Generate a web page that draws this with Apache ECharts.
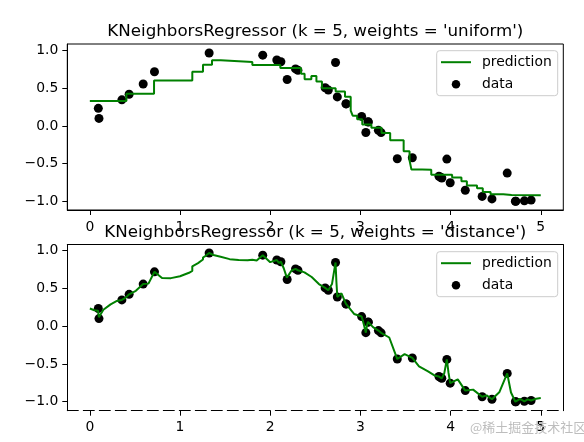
<!DOCTYPE html>
<html>
<head>
<meta charset="utf-8">
<script src="https://cdn.jsdelivr.net/npm/echarts@6/dist/echarts.min.js"></script>
<style>
html,body{margin:0;padding:0;background:#fff;}
#chart{width:584px;height:442px;}
</style>
</head>
<body>
<div id="chart"></div>
<script>
// training data (x, y)
const dataX = [0.0939, 0.1011, 0.3552, 0.4356, 0.5914, 0.7168, 1.3228, 1.9172, 2.0733, 2.1183,
  2.1879, 2.2808, 2.3074, 2.6092, 2.6445, 2.7244, 2.7441, 2.8402, 2.8422, 3.0138,
  3.0605, 3.0847, 3.0882, 3.1996, 3.2295, 3.4091, 3.5759, 3.8712, 3.8908, 3.9026,
  3.9586, 3.9958, 4.1631, 4.3501, 4.4589, 4.6280, 4.7187, 4.7233, 4.8183, 4.8931];
const dataY = [0.2343, 0.1009, 0.3478, 0.4220, 0.5575, 0.7200, 0.9694, 0.9405, 0.8763, 0.8532,
  0.6179, 0.7582, 0.7407, 0.5073, 0.4765, 0.8440, 0.3861, 0.2954, 0.2935, 0.1274,
  -0.0858, 0.0569, 0.0534, -0.0580, -0.0878, -0.4350, -0.4209, -0.6666, -0.6812, -0.6900,
  -0.4395, -0.7539, -0.8530, -0.9350, -0.9680, -0.6254, -1.0000, -1.0000, -0.9941, -0.9839];

// uniform prediction: step starts (x) and level (y)
const uniformX = [0, 0.4054, 0.7119, 1.1362, 1.2545, 1.3548, 1.4523, 1.8018, 2.1123, 2.3413,
  2.3814, 2.4562, 2.5124, 2.5738, 2.7257, 2.8292, 2.8925, 2.9144, 2.9642, 3.0209,
  3.1217, 3.2348, 3.3303, 3.4797, 3.5452, 3.5661, 3.6839, 3.7859, 4.0172, 4.1205,
  4.1808, 4.2933, 4.3573, 4.4432, 4.5842, 4.6760, 5.0];
const uniformY = [0.3325, 0.4296, 0.6033, 0.7219, 0.8127, 0.8719, 0.8515, 0.8092, 0.7693, 0.6955,
  0.6201, 0.6653, 0.5909, 0.5019, 0.4591, 0.3893, 0.2033, 0.1375, 0.0891, 0.0188,
  -0.0243, -0.0941, -0.1897, -0.3337, -0.4583, -0.5787, -0.5796, -0.6462, -0.6835, -0.7343,
  -0.7899, -0.8271, -0.8763, -0.9057, -0.9175, -0.9207, -0.9207];

// distance-weighted prediction samples
const distanceX = [0.00, 0.05, 0.0902, 0.1002, 0.15, 0.23, 0.30, 0.3552, 0.395, 0.4356,
  0.51, 0.5914, 0.65, 0.7168, 0.80, 0.90, 1.00, 1.10, 1.136, 1.136,
  1.20, 1.2545, 1.2545, 1.28, 1.3228, 1.37, 1.45, 1.55, 1.65, 1.75,
  1.8018, 1.8018, 1.85, 1.9172, 2.00, 2.0733, 2.0958, 2.1183, 2.15, 2.1844,
  2.235, 2.2808, 2.294, 2.3074, 2.38, 2.46, 2.54, 2.6092, 2.627, 2.6445,
  2.685, 2.7244, 2.734, 2.7441, 2.79, 2.8402, 2.8422, 2.93, 3.0138, 3.037,
  3.0605, 3.0726, 3.0847, 3.0882, 3.14, 3.1996, 3.2145, 3.2295, 3.32, 3.4091,
  3.49, 3.5759, 3.65, 3.75, 3.83, 3.8712, 3.8908, 3.9026, 3.93, 3.9586,
  3.977, 3.9958, 4.08, 4.1631, 4.25, 4.3501, 4.40, 4.4589, 4.54, 4.6280,
  4.67, 4.7187, 4.7233, 4.77, 4.8183, 4.855, 4.8931, 4.95, 5.00];
const distanceY = [0.2335, 0.2112, 0.2057, 0.1197, 0.2182, 0.289, 0.3343, 0.3478, 0.375, 0.4220,
  0.4687, 0.5575, 0.5636, 0.7200, 0.6375, 0.6363, 0.661, 0.7075, 0.731, 0.793,
  0.8354, 0.8826, 0.9094, 0.9286, 0.9694, 0.9428, 0.919, 0.8877, 0.876, 0.873,
  0.8784, 0.8564, 0.870, 0.9405, 0.848, 0.8763, 0.839, 0.8532, 0.767, 0.643,
  0.735, 0.7582, 0.749, 0.7407, 0.7125, 0.651, 0.5576, 0.5073, 0.505, 0.4765,
  0.558, 0.8440, 0.588, 0.3861, 0.4346, 0.2954, 0.2935, 0.1618, 0.1274, 0.0281,
  -0.0858, 0.0108, 0.0569, 0.0534, -0.0125, -0.0580, -0.0606, -0.0878, -0.1497, -0.4350,
  -0.3705, -0.4209, -0.5305, -0.5976, -0.6567, -0.6666, -0.6812, -0.6900, -0.625, -0.4395,
  -0.616, -0.7539, -0.704, -0.8530, -0.840, -0.9350, -0.9157, -0.9680, -0.875, -0.6254,
  -0.878, -1.0000, -1.0000, -0.9624, -0.9941, -0.9694, -0.9839, -0.9598, -0.952];

const xTicks = [0, 1, 2, 3, 4, 5];
const yTicks = [-1.0, -0.5, 0.0, 0.5, 1.0];
const titles = ["KNeighborsRegressor (k = 5, weights = 'uniform')",
                "KNeighborsRegressor (k = 5, weights = 'distance')"];
const legendNames = ['prediction', 'data'];

const FONT = 'DejaVu Sans';
const zip = (a, b) => a.map((v, i) => [v, b[i]]);
const yFmt = v => (v < 0 ? '\u2212' : '') + Math.abs(v).toFixed(1);

const gridLeft = 67.3, gridW = 496, gridH = 166;
const tops = [44, 244.7];

function xAxisMain(gi, dashed) {
  return {
    type: 'value', gridIndex: gi, min: -0.25, max: 5.25, position: 'bottom',
    splitLine: {show: false},
    axisLine: {show: true, onZero: false, lineStyle: {color: '#000', width: 1, type: dashed ? [11, 5] : 'solid'}},
    axisTick: {show: true, inside: false, length: 5, customValues: xTicks, lineStyle: {color: '#000', width: 1}},
    axisLabel: {show: true, customValues: xTicks, margin: 10, color: '#000', fontSize: 13.9, fontFamily: FONT,
      formatter: v => String(Math.round(v))}
  };
}
function yAxisMain(gi, mn, mx) {
  return {
    type: 'value', gridIndex: gi, min: mn, max: mx, position: 'left',
    splitLine: {show: false},
    axisLine: {show: true, onZero: false, lineStyle: {color: '#000', width: 1}},
    axisTick: {show: true, inside: false, length: 5, customValues: yTicks, lineStyle: {color: '#000', width: 1}},
    axisLabel: {show: true, customValues: yTicks, margin: 9, color: '#000', fontSize: 13.9, fontFamily: FONT,
      formatter: yFmt}
  };
}
function legendAt(top) {
  return {
    data: [
      {name: legendNames[0], itemStyle: {opacity: 0}},
      {name: legendNames[1]}
    ],
    orient: 'vertical', left: 436.7, top: top,
    padding: [3.5, 6, 3.5, 3.3], itemGap: 6, itemWidth: 30, itemHeight: 8.5,
    backgroundColor: 'rgba(255,255,255,0.8)', borderColor: '#cccccc', borderWidth: 1, borderRadius: 3,
    selectedMode: false,
    textStyle: {color: '#000', fontSize: 13.9, fontFamily: FONT, lineHeight: 16, padding: [0, 0, 0, 6]},
    itemStyle: {borderWidth: 0}
  };
}

const option = {
  animation: false,
  backgroundColor: '#fff',
  textStyle: {fontFamily: FONT},
  title: titles.map((t, i) => ({
    text: t, left: gridLeft + gridW / 2, top: tops[i] - 12.5, textAlign: 'center', textVerticalAlign: 'middle',
    padding: 0, textStyle: {color: '#000', fontSize: 16.7, fontWeight: 'normal', fontFamily: FONT}
  })),
  grid: [
    {left: gridLeft, top: tops[0], width: gridW, height: gridH, show: true, borderColor: '#000', borderWidth: 1, backgroundColor: 'transparent'},
    {left: gridLeft, top: tops[1], width: gridW, height: gridH, show: false}
  ],
  xAxis: [
    xAxisMain(0, false),
    xAxisMain(1, true),
    {type: 'value', gridIndex: 1, min: -0.25, max: 5.25, position: 'top', splitLine: {show: false},
     axisLine: {show: true, onZero: false, lineStyle: {color: '#000', width: 1}}, axisTick: {show: false}, axisLabel: {show: false}}
  ],
  yAxis: [
    yAxisMain(0, -1.1155, 1.089),
    yAxisMain(1, -1.119, 1.079),
    {type: 'value', gridIndex: 1, min: -1.119, max: 1.079, position: 'right', splitLine: {show: false},
     axisLine: {show: true, onZero: false, lineStyle: {color: '#000', width: 1}}, axisTick: {show: false}, axisLabel: {show: false}}
  ],
  legend: [legendAt(50.7), legendAt(251.7)],
  series: [
    {name: 'data', type: 'scatter', xAxisIndex: 0, yAxisIndex: 0, data: zip(dataX, dataY),
     symbol: 'circle', symbolSize: 9, itemStyle: {color: '#000', opacity: 1}, z: 2},
    {name: 'prediction', type: 'line', xAxisIndex: 0, yAxisIndex: 0, data: zip(uniformX, uniformY),
     step: 'end', symbol: 'none', showSymbol: false, lineStyle: {color: '#008000', width: 2}, itemStyle: {color: '#008000'}, z: 3},
    {name: 'data', type: 'scatter', xAxisIndex: 1, yAxisIndex: 1, data: zip(dataX, dataY),
     symbol: 'circle', symbolSize: 9, itemStyle: {color: '#000', opacity: 1}, z: 2},
    {name: 'prediction', type: 'line', xAxisIndex: 1, yAxisIndex: 1, data: zip(distanceX, distanceY),
     symbol: 'none', showSymbol: false, lineStyle: {color: '#008000', width: 2}, itemStyle: {color: '#008000'}, z: 3}
  ],
  graphic: [{
    type: 'text', left: 470, top: 421, z: 100,
    style: {text: '@稀土掘金技术社区', fill: '#bdbdbd', fontSize: 13, fontFamily: 'Noto Sans CJK SC'}
  }]
};

const chart = echarts.init(document.getElementById('chart'), null, {renderer: 'canvas'});
chart.setOption(option);
</script>
</body>
</html>
